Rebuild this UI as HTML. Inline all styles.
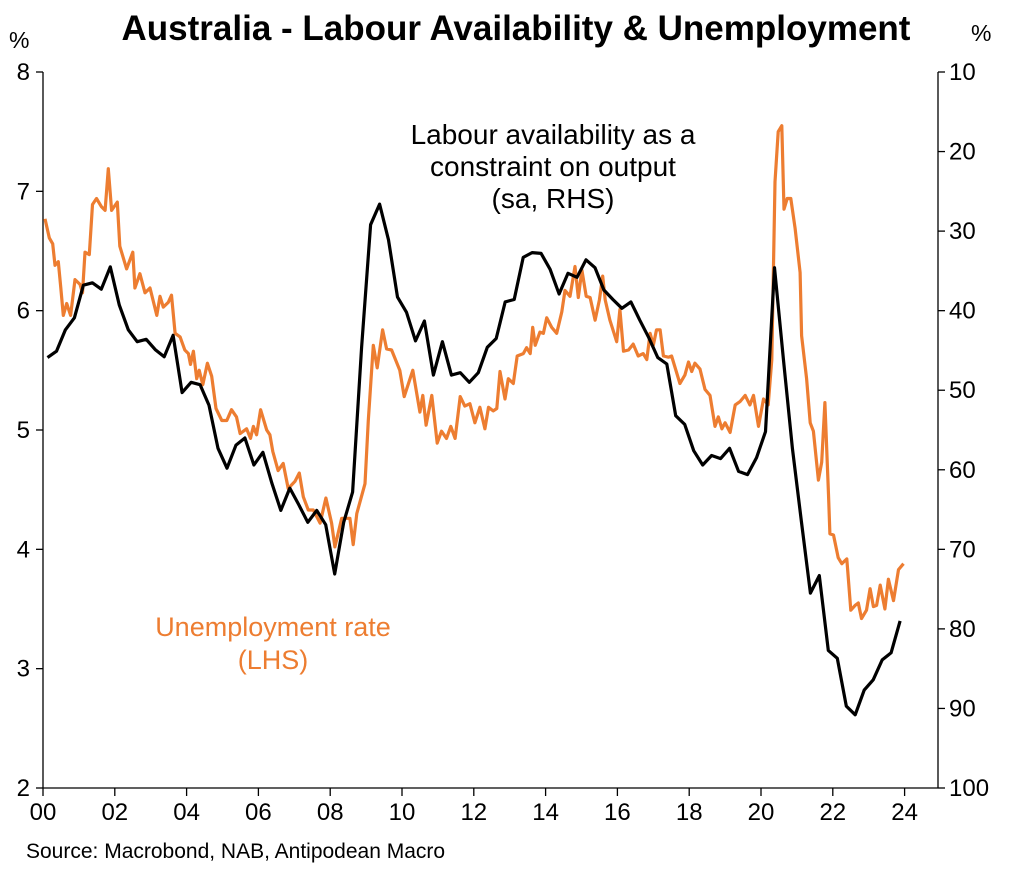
<!DOCTYPE html>
<html><head><meta charset="utf-8"><style>
body{margin:0;background:#fff;}
svg text{font-family:"Liberation Sans",Arial,sans-serif;}
</style></head><body>
<svg id="chart" width="1011" height="867" viewBox="0 0 1011 867" xmlns="http://www.w3.org/2000/svg">
<rect width="1011" height="867" fill="#fff"/>
<text x="516" y="40" font-size="35" font-weight="bold" text-anchor="middle">Australia - Labour Availability &amp; Unemployment</text>
<text x="9" y="48" font-size="23">%</text>
<text x="971" y="41" font-size="23">%</text>
<g id="axes"></g>
<g id="series"></g>
<text font-size="28" text-anchor="middle"><tspan x="553" y="144">Labour availability as a</tspan><tspan x="553" y="176">constraint on output</tspan><tspan x="553" y="208">(sa, RHS)</tspan></text>
<text font-size="27" text-anchor="middle" fill="#ED7D31"><tspan x="273" y="636">Unemployment rate</tspan><tspan x="273" y="669">(LHS)</tspan></text>
<text x="26" y="858" font-size="21">Source: Macrobond, NAB, Antipodean Macro</text>
</svg>
<script>
const xTickLabels=["00","02","04","06","08","10","12","14","16","18","20","22","24"];
const leftTicks=[2,3,4,5,6,7,8];
const rightTicks=[10,20,30,40,50,60,70,80,90,100];
const unempYears=[0.055,0.176,0.269,0.334,0.427,0.492,0.566,0.659,0.770,0.891,1.03,1.10,1.17,1.29,1.38,1.49,1.63,1.73,1.82,1.91,2.07,2.14,2.33,2.50,2.56,2.70,2.84,2.98,3.17,3.26,3.35,3.49,3.58,3.68,3.82,3.95,4.05,4.11,4.19,4.28,4.35,4.45,4.58,4.70,4.82,4.98,5.12,5.25,5.39,5.49,5.67,5.78,5.86,5.95,6.06,6.23,6.32,6.40,6.55,6.69,6.83,7.02,7.14,7.25,7.39,7.53,7.72,7.88,8.04,8.13,8.32,8.55,8.64,8.74,8.97,9.06,9.20,9.31,9.46,9.57,9.71,9.94,10.06,10.30,10.50,10.58,10.67,10.83,10.98,11.10,11.24,11.36,11.48,11.62,11.75,11.89,12.03,12.17,12.31,12.41,12.54,12.64,12.73,12.87,12.96,13.10,13.21,13.38,13.47,13.57,13.64,13.71,13.84,13.94,14.03,14.17,14.31,14.45,14.54,14.68,14.82,14.91,15.01,15.13,15.24,15.38,15.50,15.59,15.66,15.79,15.98,16.07,16.17,16.31,16.44,16.58,16.72,16.82,16.91,17.00,17.09,17.19,17.28,17.42,17.51,17.74,17.88,17.98,18.07,18.16,18.30,18.44,18.58,18.72,18.81,18.91,19.00,19.14,19.28,19.42,19.56,19.69,19.79,19.93,20.07,20.20,20.30,20.39,20.48,20.58,20.64,20.73,20.83,20.95,21.09,21.13,21.27,21.37,21.46,21.60,21.69,21.78,21.88,21.92,22.02,22.15,22.25,22.39,22.50,22.62,22.71,22.80,22.94,23.04,23.13,23.22,23.32,23.45,23.55,23.69,23.83,23.97];
const unempValues=[6.77,6.61,6.56,6.38,6.41,6.20,5.96,6.06,5.96,6.26,6.22,6.15,6.49,6.47,6.89,6.94,6.87,6.84,7.19,6.84,6.91,6.54,6.35,6.49,6.19,6.31,6.15,6.19,5.96,6.12,6.03,6.07,6.13,5.81,5.78,5.67,5.64,5.55,5.66,5.43,5.50,5.38,5.56,5.45,5.18,5.08,5.08,5.17,5.11,4.97,5.01,4.93,5.03,4.96,5.17,5.00,4.96,4.82,4.66,4.72,4.51,4.57,4.64,4.44,4.33,4.33,4.22,4.43,4.22,4.02,4.26,4.26,4.04,4.30,4.55,5.08,5.71,5.52,5.84,5.68,5.67,5.50,5.28,5.50,5.15,5.29,5.04,5.29,4.89,4.99,4.93,5.03,4.93,5.28,5.20,5.22,5.06,5.19,5.01,5.19,5.16,5.18,5.49,5.26,5.43,5.39,5.62,5.64,5.69,5.64,5.86,5.71,5.82,5.81,5.94,5.86,5.81,5.99,6.17,6.12,6.37,6.11,6.34,6.12,6.11,5.92,6.09,6.29,6.09,5.92,5.74,6.01,5.66,5.67,5.72,5.62,5.64,5.59,5.81,5.71,5.84,5.84,5.62,5.61,5.62,5.39,5.46,5.57,5.49,5.56,5.51,5.34,5.29,5.03,5.11,5.01,5.06,4.98,5.21,5.24,5.29,5.21,5.29,5.03,5.26,5.21,5.59,7.08,7.50,7.55,6.85,6.94,6.94,6.69,6.32,5.79,5.43,5.06,4.99,4.58,4.73,5.23,4.46,4.13,4.12,3.93,3.88,3.92,3.49,3.53,3.55,3.42,3.49,3.67,3.52,3.53,3.70,3.50,3.75,3.57,3.83,3.88];
const labourValues=[45.9,45.1,42.4,40.9,36.8,36.5,37.3,34.5,39.3,42.4,43.9,43.6,44.9,45.8,43.1,50.3,49.0,49.3,51.9,57.3,59.8,56.9,56.0,59.4,57.8,61.7,65.1,62.3,64.4,66.6,65.1,66.9,73.1,66.6,62.8,44.6,29.2,26.6,31.1,38.3,40.2,43.8,41.3,48.1,43.9,48.1,47.8,49.0,47.8,44.6,43.5,38.9,38.6,33.3,32.7,32.8,34.8,37.9,35.3,35.8,33.6,34.6,37.4,38.6,39.7,38.9,41.2,43.4,45.9,46.7,53.2,54.3,57.6,59.4,58.2,58.6,57.3,60.2,60.6,58.5,55.2,34.6,46.1,57.3,66.5,75.5,73.3,82.7,83.7,89.7,90.8,87.7,86.4,83.9,83.0,79.0];
const labourStartYear=0.125, labourStep=0.25;

const L=43,R=938,T=72,B=788;
const xS=y=>L+y*35.9;
const yL=v=>T+(8-v)*(B-T)/6;
const yR=v=>T+(v-10)*(B-T)/90;
const NS="http://www.w3.org/2000/svg";
const axes=document.getElementById('axes'), series=document.getElementById('series');
function mk(tag,attrs,parent){const e=document.createElementNS(NS,tag);for(const k in attrs)e.setAttribute(k,attrs[k]);parent.appendChild(e);return e;}
const la=mk('line',{x1:L,y1:T,x2:L,y2:B,stroke:'#000','stroke-width':1.3},axes);


const ra=mk('line',{x1:R,y1:T,x2:R,y2:B,stroke:'#000','stroke-width':1.3},axes);


const ba=mk('line',{x1:L,y1:B,x2:R,y2:B,stroke:'#000','stroke-width':1.3},axes);


leftTicks.forEach(v=>{
  const t=mk('line',{x1:L-7,y1:yL(v),x2:L,y2:yL(v),stroke:'#000','stroke-width':1.3},axes);
  
  
  const tx=mk('text',{x:L-13,y:yL(v)+8,'font-size':24,'text-anchor':'end'},axes);
  tx.textContent=v;
  
  
});
rightTicks.forEach(v=>{
  const t=mk('line',{x1:R,y1:yR(v),x2:R+7,y2:yR(v),stroke:'#000','stroke-width':1.3},axes);
  
  
  const tx=mk('text',{x:R+11,y:yR(v)+8,'font-size':24},axes);
  tx.textContent=v;
  
  
});
xTickLabels.forEach((lab,i)=>{
  const x=xS(i*2);
  const t=mk('line',{x1:x,y1:B,x2:x,y2:B+8,stroke:'#000','stroke-width':1.3},axes);
  
  
  const tx=mk('text',{x:x,y:B+32,'font-size':24,'text-anchor':'middle'},axes);
  tx.textContent=lab;
  
  
});
const up=unempValues.map((v,i)=>xS(unempYears[i]).toFixed(1)+','+yL(v).toFixed(1)).join(' ');
const ol=mk('polyline',{points:up,fill:'none',stroke:'#ED7D31','stroke-width':3.2,'stroke-linejoin':'round'},series);


const lp=labourValues.map((v,i)=>xS(labourStartYear+i*labourStep).toFixed(1)+','+yR(v).toFixed(1)).join(' ');
const bl=mk('polyline',{points:lp,fill:'none',stroke:'#000','stroke-width':3.2,'stroke-linejoin':'round'},series);


</script>
</body></html>
